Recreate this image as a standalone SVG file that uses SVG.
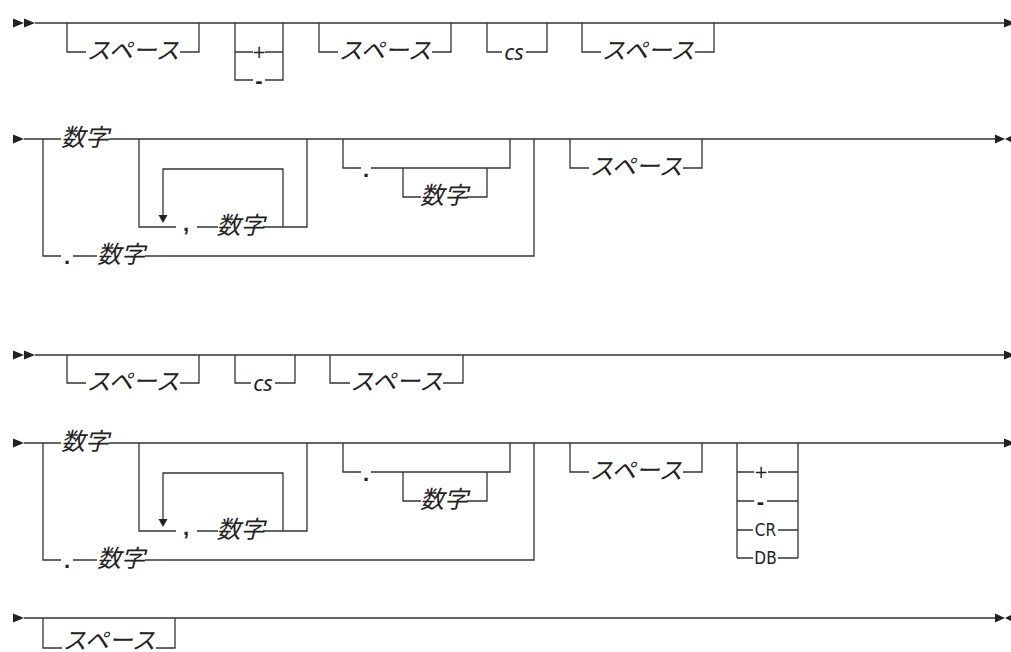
<svg xmlns="http://www.w3.org/2000/svg" width="1011" height="652" viewBox="0 0 1011 652">
<style>
.ln{fill:none;stroke:#333;stroke-width:1.3}
.ah{fill:#222}
.jp{font-family:"Noto Sans CJK JP","Noto Sans",sans-serif;font-size:24px;font-style:italic;fill:#222;text-anchor:middle}
.it{font-family:"Noto Sans","DejaVu Sans",sans-serif;font-size:22px;font-style:italic;fill:#222;text-anchor:middle}
.sy{font-family:"Liberation Sans",sans-serif;font-size:19px;fill:#222;text-anchor:middle}
.pl{font-family:"DejaVu Sans",sans-serif;font-size:17px}
.bd{font-weight:bold;font-size:22px}
.cd{font-family:"DejaVu Sans Condensed","DejaVu Sans",sans-serif;font-stretch:condensed;font-size:17px}
</style>
<rect width="1011" height="652" fill="#fff"/>
<g id="connectors">
  <!-- row 1 -->
  <polygon class="ah" points="13,18.5 24,23 13,27.5"/>
  <polygon class="ah" points="24,18.5 35,23 24,27.5"/>
  <path class="ln" d="M35,23 H1005"/>
  <polygon class="ah" points="1004,18.5 1015,23 1004,27.5"/>
  <path class="ln" d="M67,23 V52 H86 M180,52 H199 V23"/>
  <path class="ln" d="M235,23 V80 H253 M265,80 H283 V23 M235,52 H253 M265,52 H283"/>
  <path class="ln" d="M319,23 V52 H338 M432,52 H451 V23"/>
  <path class="ln" d="M487,23 V52 H502 M526,52 H547 V23"/>
  <path class="ln" d="M582,23 V52 H601 M695,52 H714 V23"/>
  <!-- row 2 -->
  <polygon class="ah" points="13,134.5 24,139 13,143.5"/>
  <path class="ln" d="M24,139 H61 M109,139 H995"/>
  <path class="ln" d="M43,139 V256 H61 M73,256 H97 M145,256 H534 V139"/>
  <path class="ln" d="M139,139 V227 H176 M197,227 H218 M263,227 H307 V139"/>
  <path class="ln" d="M283,227 V169 H163 V215"/>
  <polygon class="ah" points="158.5,215 167.5,215 163,223"/>
  <path class="ln" d="M343,139 V168 H361 M371,168 H510 V139 M403,168 V197 H421 M467,197 H487 V168"/>
  <path class="ln" d="M570,139 V168 H589 M683,168 H702 V139"/>
  <polygon class="ah" points="995,134.5 1005,139 995,143.5"/>
  <polygon class="ah" points="1005,139 1014,134.5 1014,143.5"/>
  <!-- row 3 -->
  <polygon class="ah" points="13,350.5 24,355 13,359.5"/>
  <polygon class="ah" points="24,350.5 35,355 24,359.5"/>
  <path class="ln" d="M35,355 H1005"/>
  <polygon class="ah" points="1004,350.5 1015,355 1004,359.5"/>
  <path class="ln" d="M67,355 V383 H86 M180,383 H199 V355"/>
  <path class="ln" d="M235,355 V383 H251 M275,383 H295 V355"/>
  <path class="ln" d="M330,355 V383 H350 M443,383 H463 V355"/>
  <!-- row 4 -->
  <polygon class="ah" points="13,438.5 24,443 13,447.5"/>
  <path class="ln" d="M24,443 H61 M109,443 H1005"/>
  <path class="ln" d="M43,443 V560 H61 M73,560 H97 M145,560 H534 V443"/>
  <path class="ln" d="M139,443 V531 H176 M197,531 H218 M263,531 H307 V443"/>
  <path class="ln" d="M283,531 V473 H163 V519"/>
  <polygon class="ah" points="158.5,519 167.5,519 163,527"/>
  <path class="ln" d="M343,443 V472 H361 M371,472 H510 V443 M403,472 V501 H421 M467,501 H487 V472"/>
  <path class="ln" d="M570,443 V472 H589 M683,472 H702 V443"/>
  <path class="ln" d="M737,443 V558 M798,443 V558 M737,472 H754 M768,472 H798 M737,501 H754 M767,501 H798 M737,530 H753 M778,530 H798 M737,558 H753 M778,558 H798"/>
  <polygon class="ah" points="1004,438.5 1015,443 1004,447.5"/>
  <!-- row 5 -->
  <polygon class="ah" points="13,613.5 24,618 13,622.5"/>
  <path class="ln" d="M24,618 H995"/>
  <path class="ln" d="M43,618 V648 H62 M156,648 H175 V618"/>
  <polygon class="ah" points="995,613.5 1005,618 995,622.5"/>
  <polygon class="ah" points="1005,618 1014,613.5 1014,622.5"/>
</g>
<g id="row1">
  <g id="r1-space1"><text class="jp" x="133" y="59">スペース</text></g>
  <g id="r1-sign"><text class="sy pl" x="259" y="58">+</text><text class="sy bd" x="259" y="88">-</text></g>
  <g id="r1-space2"><text class="jp" x="385" y="59">スペース</text></g>
  <g id="r1-cs"><text class="it" x="514" y="60">cs</text></g>
  <g id="r1-space3"><text class="jp" x="648" y="59">スペース</text></g>
</g>
<g id="row2">
  <g id="r2-digit"><text class="jp" x="85" y="146">数字</text></g>
  <g id="r2-repeat"><text class="sy bd" x="186" y="231">,</text><text class="jp" x="240.5" y="234">数字</text></g>
  <g id="r2-frac"><text class="sy bd" x="366" y="177">.</text><text class="jp" x="444" y="204">数字</text></g>
  <g id="r2-dotdigit"><text class="sy bd" x="67" y="264">.</text><text class="jp" x="121" y="263">数字</text></g>
  <g id="r2-space"><text class="jp" x="636" y="175">スペース</text></g>
</g>
<g id="row3">
  <g id="r3-space1"><text class="jp" x="133" y="390">スペース</text></g>
  <g id="r3-cs"><text class="it" x="263" y="391">cs</text></g>
  <g id="r3-space2"><text class="jp" x="396.5" y="390">スペース</text></g>
</g>
<g id="row4">
  <g id="r4-digit"><text class="jp" x="85" y="450">数字</text></g>
  <g id="r4-repeat"><text class="sy bd" x="186" y="535">,</text><text class="jp" x="240.5" y="538">数字</text></g>
  <g id="r4-frac"><text class="sy bd" x="366" y="481">.</text><text class="jp" x="444" y="508">数字</text></g>
  <g id="r4-dotdigit"><text class="sy bd" x="67" y="568">.</text><text class="jp" x="121" y="567">数字</text></g>
  <g id="r4-space"><text class="jp" x="636" y="479">スペース</text></g>
  <g id="r4-sign">
    <text class="sy pl" x="761" y="478">+</text>
    <text class="sy bd" x="760.5" y="509">-</text>
    <text class="sy cd" x="765.5" y="536">CR</text>
    <text class="sy cd" x="765.5" y="564">DB</text>
  </g>
</g>
<g id="row5">
  <g id="r5-space"><text class="jp" x="109" y="649">スペース</text></g>
</g>
</svg>
